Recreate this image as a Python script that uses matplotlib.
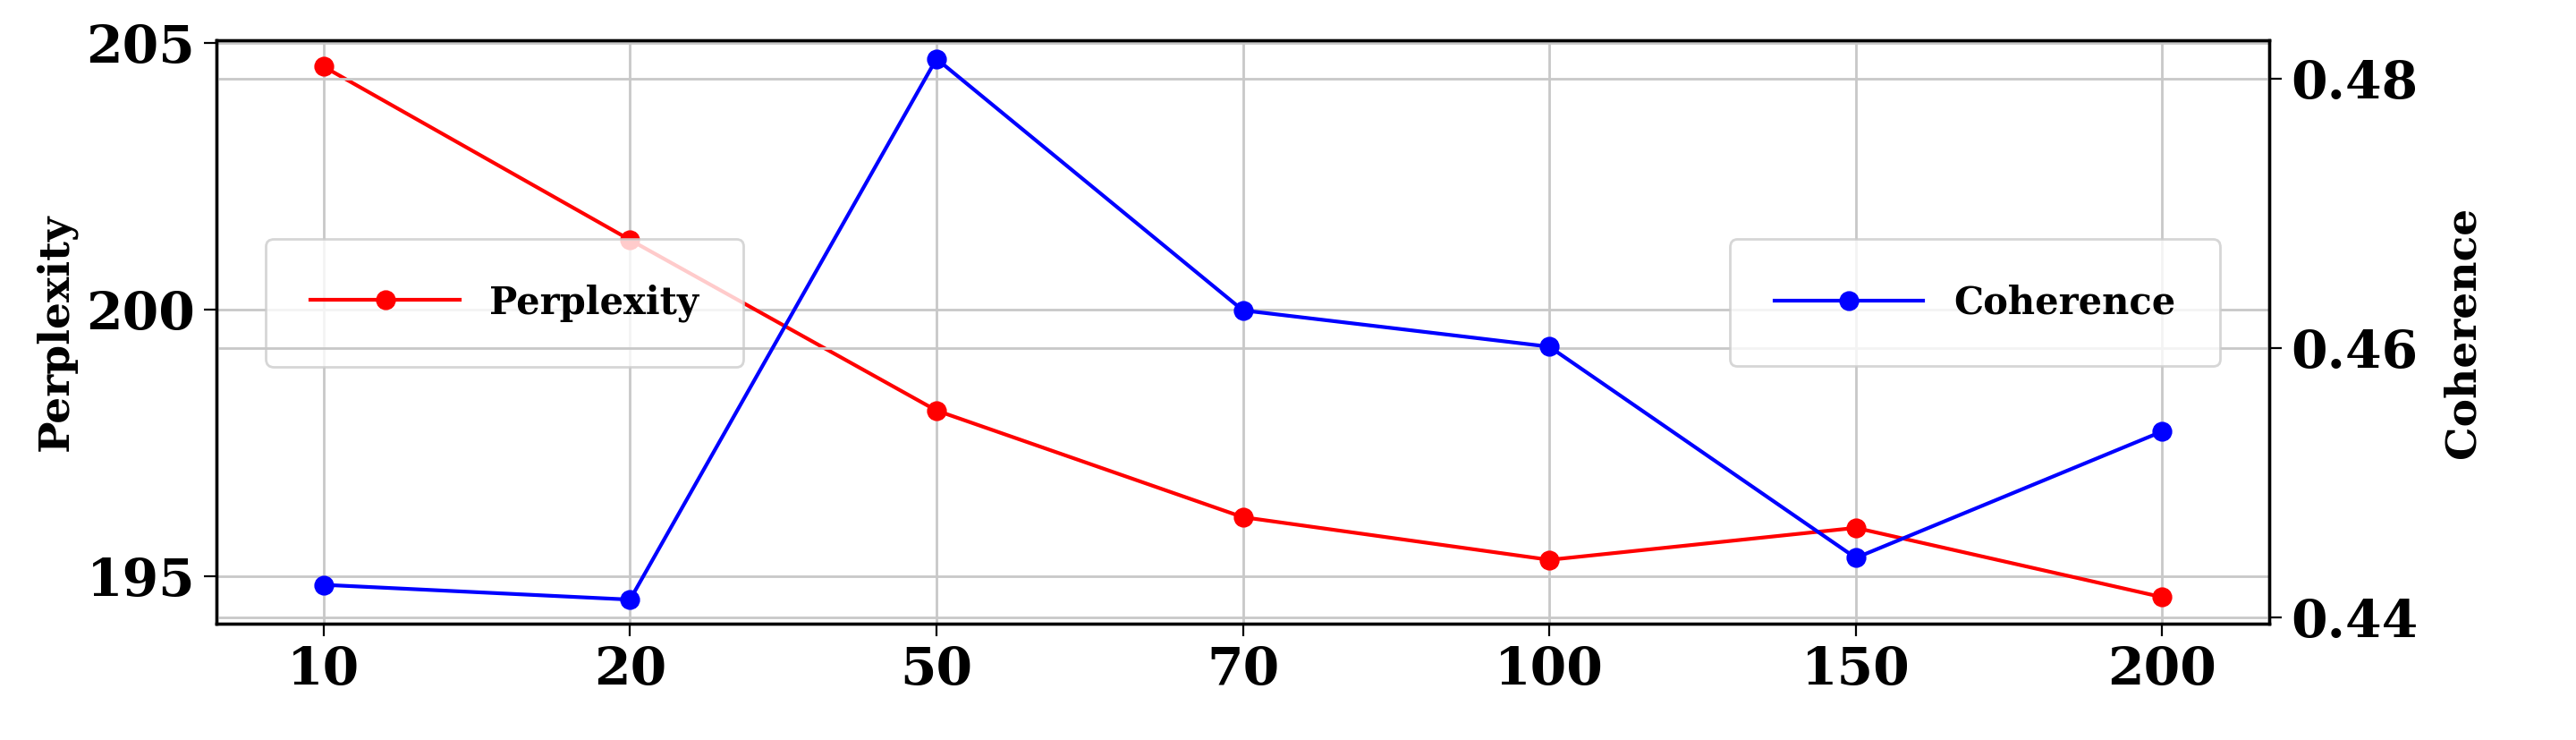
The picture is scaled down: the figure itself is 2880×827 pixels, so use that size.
import matplotlib.pyplot as plt

plt.rcParams["font.family"] = ["DejaVu Serif"]
plt.rcParams["font.weight"] = "bold"

topics = ["10", "20", "50", "70", "100", "150", "200"]
perplexity = [204.55, 201.3, 198.1, 196.1, 195.3, 195.9, 194.6]
coherence = [0.4424, 0.4413, 0.4815, 0.4628, 0.4601, 0.4444, 0.4538]

fig = plt.figure(figsize=(14.4, 4.135), dpi=200)
ax = fig.add_axes([0.084, 0.157, 0.797, 0.789])
x = range(len(topics))
ax.plot(x, perplexity, "-o", color="red", lw=1.5, ms=7, label="Perplexity")
ax.set_ylim(194.1, 205.05)
ax.set_yticks([195, 200, 205])
ax.set_xticks(list(x))
ax.set_xticklabels(topics)
ax.set_xlim(-0.35, 6.35)
ax.grid(True, color="#c8c8c8", lw=1)
ax.set_ylabel("Perplexity", fontsize=17, fontweight="bold")
ax.tick_params(labelsize=21, length=5)

ax2 = ax.twinx()
ax2.plot(x, coherence, "-o", color="blue", lw=1.5, ms=7, label="Coherence")
ax2.set_ylim(0.4395, 0.4829)
ax2.set_yticks([0.44, 0.46, 0.48])
ax2.set_yticklabels(["0.44", "0.46", "0.48"])
ax2.grid(True, color="#c8c8c8", lw=1)
ax2.set_ylabel("Coherence", fontsize=17, fontweight="bold", labelpad=10)
ax2.tick_params(labelsize=21, length=5)

for a in (ax, ax2):
    for s in a.spines.values():
        s.set_linewidth(1.2)

ax.legend(loc="center left", bbox_to_anchor=(0.015, 0.55), fontsize=15,
          borderpad=1.2, handlelength=4, framealpha=0.8)
ax2.legend(loc="center right", bbox_to_anchor=(0.985, 0.55), fontsize=15,
           borderpad=1.2, handlelength=4, framealpha=0.8)

fig.savefig("out.png", dpi=200)
